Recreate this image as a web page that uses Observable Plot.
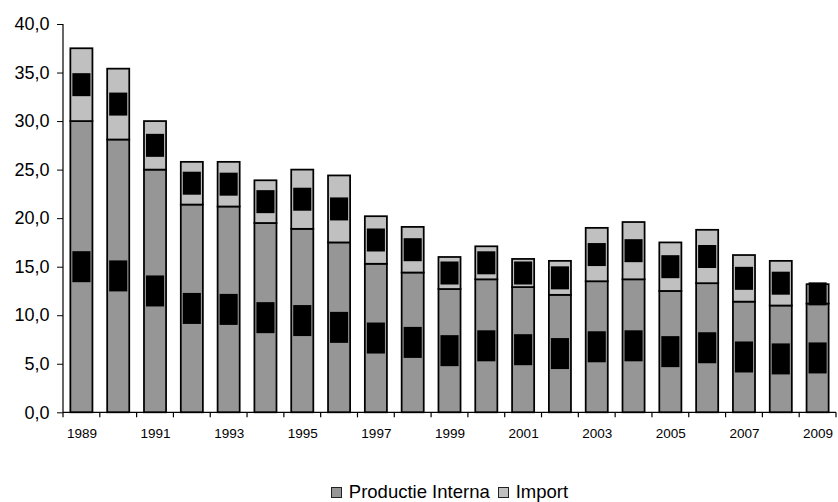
<!DOCTYPE html>
<html>
<head>
<meta charset="utf-8">
<script src="https://cdn.jsdelivr.net/npm/d3@7"></script>
<script src="https://cdn.jsdelivr.net/npm/@observablehq/plot@0.6"></script>
<style>
  html, body { margin: 0; padding: 0; background: #fff; overflow: hidden; }
  body { width: 838px; height: 502px; font-family: "Liberation Sans", Arial, sans-serif; }
  #legend {
    height: 32px; box-sizing: border-box; padding: 12px 2px 0 63px;
    text-align: center; font-size: 18.5px; line-height: 20px; color: #000; white-space: nowrap;
  }
  #legend .sw {
    display: inline-block; width: 9px; height: 9px; border: 1px solid #222;
    vertical-align: baseline; margin-right: 7px;
  }
  #legend .item + .item { margin-left: 8px; }
</style>
</head>
<body>
<div id="chart"></div>
<div id="legend"></div>
<script>
// Internal production and imports per year (stacked)
const years = [1989, 1990, 1991, 1992, 1993, 1994, 1995, 1996, 1997, 1998, 1999,
               2000, 2001, 2002, 2003, 2004, 2005, 2006, 2007, 2008, 2009];
const production = [30.0, 28.1, 25.0, 21.4, 21.2, 19.5, 18.9, 17.5, 15.3, 14.4, 12.7,
                    13.7, 12.9, 12.1, 13.5, 13.7, 12.5, 13.3, 11.4, 11.0, 11.2];
const imports = [7.5, 7.3, 5.0, 4.4, 4.6, 4.4, 6.1, 6.9, 4.9, 4.7, 3.3,
                 3.4, 2.9, 3.5, 5.5, 5.9, 5.0, 5.5, 4.8, 4.6, 2.0];
const seriesNames = ["Productie Interna", "Import"];
const seriesColors = ["#969696", "#c0c0c0"];
const labeledYears = [1989, 1991, 1993, 1995, 1997, 1999, 2001, 2003, 2005, 2007, 2009];
const yTicks = [0, 5, 10, 15, 20, 25, 30, 35, 40];

const fmt = v => d3.format(".1f")(v).replace(".", ",");

const rows = years.flatMap((yr, i) => [
  {year: yr, series: seriesNames[0], value: production[i]},
  {year: yr, series: seriesNames[1], value: imports[i]}
]);

// Data labels sit at the middle of each segment
const prodLabels = years.map((yr, i) => ({year: yr, mid: production[i] / 2, value: production[i]}));
const impLabels = years.map((yr, i) => ({year: yr, mid: production[i] + imports[i] / 2, value: imports[i]}));

// Axis lines and category-boundary ticks (Excel style)
function frameLines(index, scales, values, dims) {
  const g = d3.create("svg:g").attr("stroke", "#000").attr("stroke-width", 1.2).attr("fill", "none");
  const left = dims.marginLeft, right = dims.width - dims.marginRight;
  const y0 = scales.y(0), yTop = scales.y(40);
  g.append("line").attr("x1", left).attr("x2", left).attr("y1", yTop).attr("y2", y0);
  g.append("line").attr("x1", left).attr("x2", right).attr("y1", y0).attr("y2", y0);
  const step = (right - left) / years.length;
  for (let i = 0; i <= years.length; ++i) {
    const x = left + i * step;
    g.append("line").attr("x1", x).attr("x2", x).attr("y1", y0).attr("y2", y0 + 5);
  }
  return g.node();
}

const chart = Plot.plot({
  width: 838,
  height: 470,
  marginLeft: 63,
  marginRight: 2,
  marginTop: 24,
  marginBottom: 57.7,
  style: {fontFamily: "'Liberation Sans', Arial, sans-serif", background: "#fff", color: "#000"},
  x: {type: "band", domain: years, paddingInner: 0.4, paddingOuter: 0.2, round: false, label: null},
  y: {domain: [0, 40], label: null},
  color: {domain: seriesNames, range: seriesColors},
  marks: [
    Plot.barY(rows, Plot.stackY({
      x: "year", y: "value", fill: "series", order: seriesNames,
      stroke: "#000", strokeWidth: 1.75
    })),
    Plot.barY(prodLabels, {x: "year", y1: "mid", y2: "mid", fill: "#000",
      insetLeft: 2, insetRight: 2, insetTop: -15.5, insetBottom: -15.5}),
    Plot.barY(impLabels, {x: "year", y1: "mid", y2: "mid", fill: "#000",
      insetLeft: 2, insetRight: 2, insetTop: -11.5, insetBottom: -11.5}),
    Plot.text(prodLabels, {x: "year", y: "mid", text: d => fmt(d.value), fill: "#000", fontSize: 7}),
    Plot.text(impLabels, {x: "year", y: "mid", text: d => fmt(d.value), fill: "#000", fontSize: 7}),
    Plot.axisX({ticks: labeledYears, tickSize: 0, tickPadding: 16, fontSize: 13.5,
      tickFormat: d => String(d), label: null}),
    Plot.axisY({ticks: yTicks, tickSize: 6, tickPadding: 8, fontSize: 18,
      tickFormat: fmt, label: null}),
    frameLines
  ]
});
document.getElementById("chart").appendChild(chart);

// Legend below the chart
const legend = d3.select("#legend");
seriesNames.forEach((name, i) => {
  const item = legend.append("span").attr("class", "item");
  item.append("span").attr("class", "sw").style("background", seriesColors[i]);
  item.append("span").text(name);
});
</script>
</body>
</html>
